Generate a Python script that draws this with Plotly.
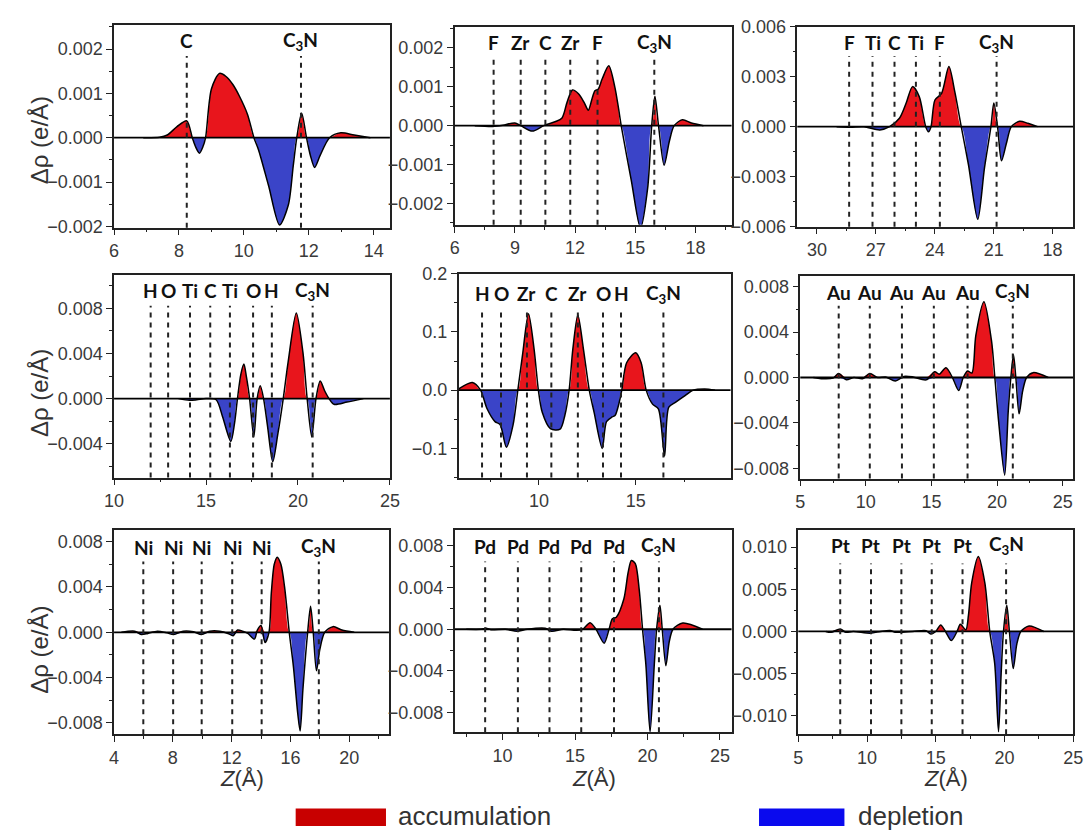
import plotly.graph_objects as go

W, H = 1092, 839

# ---------------- data ----------------
# Panel 1: C3N / graphene-like (C)
p1_z = [6.9, 7.4, 7.64, 7.94, 8.24, 8.41, 8.52, 8.63, 8.74, 8.82, 9.0, 9.25, 9.45, 9.66, 9.86, 10.11, 10.31,
        10.45, 10.76, 11.1, 11.37, 11.52, 11.63, 11.78, 11.93, 12.05, 12.18, 12.35, 12.64, 12.99, 13.4, 13.9]
p1_rho = [0, 0.00001, 0.00006, 0.00025, 0.00038, 0, -0.00022, -0.00035, -0.0002, 0, 0.0011, 0.00145, 0.00138,
          0.0012, 0.00094, 0.00053, 0, -0.00027, -0.00108, -0.00197, -0.00152, -0.00064, 0, 0.00055, 0,
          -0.0004, -0.00067, -0.0004, 0, 0.00011, 0.00006, 0]
p1_atoms = [8.24, 11.76]
p1_labels = ["C", "C<sub>3</sub>N"]

# Panel 2: Zr2CF2
p2_z = [7.0, 7.9, 8.4, 9.0, 9.29, 9.87, 10.44, 11.0, 11.35, 11.6, 11.87, 12.17, 12.45, 12.66, 12.85, 12.99,
        13.15, 13.35, 13.68, 13.98, 14.15, 14.3, 14.8, 15.26, 15.62, 15.82, 15.98, 16.16, 16.44, 16.7, 16.94,
        17.35, 17.8, 18.4]
p2_rho = [0, -0.00002, 0.00001, 0.00007, 0, -0.00014, 0, 0.0001, 0.0002, 0.0006, 0.00092, 0.00082, 0.0006,
          0.0004, 0.0007, 0.0009, 0.00094, 0.0012, 0.00154, 0.001, 0.0005, 0, -0.0014, -0.00263, -0.0016, 0,
          0.00076, 0, -0.00102, -0.0004, 0, 0.00015, 0.00007, 0]
p2_atoms = [7.94, 9.29, 10.52, 11.76, 13.12, 15.95]
p2_labels = ["F", "Zr", "C", "Zr", "F", "C<sub>3</sub>N"]

# Panel 3: Ti2CF2 (reversed axis)
p3_z = [29.0, 28.3, 27.6, 26.8, 26.3, 25.8, 25.46, 25.13, 24.79, 24.46, 24.32, 24.19, 23.99, 23.65, 23.28,
        22.98, 22.65, 22.28, 21.81, 21.47, 21.14, 20.99, 20.8, 20.6, 20.35, 20.1, 19.68, 19.26, 18.76]
p3_rho = [0, -0.00003, -0.00001, -0.0002, 0, 0.0005, 0.0014, 0.0024, 0.0018, 0, -0.0003, 0, 0.0016, 0.002,
          0.0036, 0.0021, 0, -0.0023, -0.00556, -0.0025, 0, 0.00142, 0, -0.00205, -0.001, 0, 0.00032, 0.0002, 0]
p3_atoms = [28.36, 27.17, 26.05, 24.96, 23.74, 20.85]
p3_labels = ["F", "Ti", "C", "Ti", "F", "C<sub>3</sub>N"]

# Panel 4: Ti2C(OH)2
p4_z = [13.5, 14.1, 14.5, 15.0, 15.55, 15.9, 16.35, 16.55, 16.71, 16.9, 17.06, 17.2, 17.37, 17.6, 17.78,
        17.95, 18.13, 18.35, 18.63, 18.9, 19.2, 19.47, 19.91, 20.27, 20.5, 20.75, 20.98, 21.21, 21.45, 21.69,
        21.96, 22.67, 23.56]
p4_rho = [0, -0.00015, -0.0001, 0, -0.0001, -0.0016, -0.0038, -0.0022, 0, 0.0022, 0.00306, 0.0019, 0, -0.0034,
          0, 0.00114, 0, -0.0025, -0.0056, -0.0032, 0, 0.0033, 0.0076, 0.0041, 0, -0.0034, 0, 0.00157, 0.0007,
          0, -0.0005, -0.0003, 0]
p4_atoms = [11.99, 12.94, 14.13, 15.23, 16.3, 17.56, 18.58, 20.8]
p4_labels = ["H", "O", "Ti", "C", "Ti", "O", "H", "C<sub>3</sub>N"]

# Panel 5: Zr2C(OH)2
p5_z = [5.85, 6.56, 6.98, 7.32, 7.73, 7.99, 8.32, 8.66, 8.91, 9.15, 9.46, 9.75, 9.97, 10.17, 10.59, 11.09,
        11.34, 11.56, 11.75, 12.01, 12.3, 12.6, 12.85, 13.27, 13.49, 13.78, 13.94, 14.11, 14.28, 14.53, 15.0,
        15.28, 15.54, 15.87, 16.17, 16.49, 16.71, 17.05, 17.55, 17.97, 18.56, 19.1]
p5_rho = [0.002, 0.013, 0, -0.032, -0.054, -0.059, -0.098, -0.06, 0, 0.06, 0.131, 0.07, 0, -0.038, -0.066,
          -0.067, -0.043, 0, 0.07, 0.129, 0.07, 0, -0.038, -0.1, -0.054, -0.046, -0.043, -0.026, 0, 0.047, 0.064,
          0.047, 0, -0.024, -0.032, -0.113, -0.029, -0.021, -0.0095, 0, 0.002, 0]
p5_atoms = [7.06, 8.04, 9.38, 10.64, 12.01, 13.31, 14.24, 16.43]
p5_labels = ["H", "O", "Zr", "C", "Zr", "O", "H", "C<sub>3</sub>N"]

# Panel 6: Au
p6_z = [6.0, 6.6, 7.5, 7.93, 8.5, 9.1, 9.75, 10.3, 10.9, 11.5, 12.25, 12.9, 13.6, 14.6, 15.25, 15.6, 16.1,
        16.6, 17.08, 17.42, 17.75, 18.08, 18.38, 19.0, 19.58, 19.83, 20.13, 20.58, 20.85, 21.05, 21.25, 21.43,
        21.68, 21.95, 22.25, 22.75, 23.9]
p6_rho = [0, -0.0001, -0.00005, 0.00035, -0.0002, 0, -0.0001, 0.00035, 0, 0.00005, -0.0003, 0.0001, 0.00005,
          -0.0002, 0.0005, 0.0003, 0.00086, 0, -0.00115, 0, 0.00058, 0.0004, 0.0037, 0.00668, 0.0032, 0, -0.004,
          -0.0086, -0.003, 0, 0.002, 0, -0.0032, -0.0012, 0, 0.00043, 0]
p6_atoms = [7.93, 10.3, 12.75, 15.18, 17.75, 21.2]
p6_labels = ["Au", "Au", "Au", "Au", "Au", "C<sub>3</sub>N"]

# Panel 7: Ni
p7_z = [4.5, 5.4, 5.85, 6.3, 6.95, 7.6, 8.05, 8.7, 9.4, 9.95, 10.5, 11.2, 11.75, 12.1, 12.4, 12.75, 13.1,
        13.55, 13.75, 14.0, 14.27, 14.54, 14.7, 14.9, 15.1, 15.35, 15.6, 15.92, 16.2, 16.5, 16.66, 16.85, 17.17,
        17.37, 17.55, 17.77, 18.0, 18.33, 18.89, 19.5, 20.34]
p7_rho = [0, 0.0001, -0.0002, -0.0001, 0.0001, -0.00005, -0.0002, 0.0001, 0.00005, -0.0002, 0.0001, 0.0001,
          -0.0001, -0.0003, 0.0002, 0.0001, -0.0001, -0.0006, 0.0002, 0.0006, -0.0009, 0, 0.0035, 0.006,
          0.00663, 0.006, 0.004, 0, -0.003, -0.0072, -0.0087, -0.005, 0, 0.00229, 0, -0.0034, -0.0015, 0,
          0.0005, 0.0002, 0]
p7_atoms = [5.99, 8.02, 9.96, 12.04, 14.04, 17.93]
p7_labels = ["Ni", "Ni", "Ni", "Ni", "Ni", "C<sub>3</sub>N"]

# Panel 8: Pd
p8_z = [7.5, 8.53, 8.87, 9.2, 10.2, 11.0, 11.7, 12.94, 13.39, 14.19, 15.1, 15.54, 16.04, 16.45, 17.01, 17.35,
        17.58, 17.85, 18.37, 18.66, 18.89, 19.16, 19.43, 19.66, 19.89, 20.18, 20.47, 20.63, 20.86, 21.02, 21.27,
        21.5, 21.76, 22.44, 23.8]
p8_rho = [0, 0, 0.0001, -0.00005, 0, -0.0002, 0, 0.0001, -0.0002, 0, -0.0001, 0, 0.00063, 0, -0.00134, 0,
          0.001, 0.00116, 0.0029, 0.0054, 0.0066, 0.0063, 0.0038, 0, -0.0034, -0.00984, -0.0034, 0, 0.0023, 0,
          -0.0035, -0.0012, 0, 0.0006, 0]
p8_atoms = [8.8, 11.06, 13.24, 15.43, 17.69, 20.79]
p8_labels = ["Pd", "Pd", "Pd", "Pd", "Pd", "C<sub>3</sub>N"]

# Panel 9: Pt
p9_z = [7.0, 7.38, 8.05, 8.45, 9.0, 10.24, 11.0, 11.67, 12.14, 13.33, 14.29, 14.64, 15.0, 15.36, 15.71, 16.14,
        16.55, 16.79, 17.19, 17.38, 17.62, 18.1, 18.57, 18.93, 19.29, 19.57, 19.76, 19.93, 20.17, 20.36, 20.64,
        20.9, 21.19, 21.79, 22.86]
p9_rho = [0, -0.0001, 0.0003, -0.0001, 0, -0.0002, 0, 0.0001, -0.0001, 0, 0.0001, -0.0003, 0, 0.00077, 0,
          -0.00108, 0, 0.00085, 0.0002, 0.0019, 0.0058, 0.0089, 0.0058, 0, -0.0038, -0.0119, -0.005, 0, 0.0031,
          0, -0.0044, -0.0015, 0, 0.00065, 0]
p9_atoms = [8.05, 10.29, 12.5, 14.71, 16.95, 20.12]
p9_labels = ["Pt", "Pt", "Pt", "Pt", "Pt", "C<sub>3</sub>N"]

legend_labels = ["accumulation", "depletion"]
y_title = "Δρ (e/Å)"
x_title = "<i>Z</i>(Å)"

# ---------------- styles ----------------
RED = "#E8151C"
BLUE = "#3A44C8"
LEG_RED = "#C80000"
LEG_BLUE = "#0A0AEE"
TICK_FONT = dict(family="Liberation Sans, Arial", size=18, color="#3a3a3a")
LABEL_FONT = dict(family="Lato, Open Sans", size=19, color="#111")

panels = [
    dict(z=p1_z, rho=p1_rho, atoms=p1_atoms, labels=p1_labels, frame=(106, 387, 15, 223),
         xr=[6, 14.5], xd=2, x0=6, yr=[-0.00203, 0.00255], yd=0.001, fmt=".3f", gap=32, lshift=-16),
    dict(z=p2_z, rho=p2_rho, atoms=p2_atoms, labels=p2_labels, frame=(453, 735, 17, 220),
         xr=[6, 19.8], xd=3, x0=6, yr=[-0.00255, 0.00255], yd=0.001, fmt=".3f", gap=30, lshift=-16),
    dict(z=p3_z, rho=p3_rho, atoms=p3_atoms, labels=p3_labels, frame=(802, 1083, 17, 222),
         xr=[31, 16.95], xd=3, x0=18, yr=[-0.006, 0.006], yd=0.003, fmt=".3f", gap=30, lshift=-16),
    dict(z=p4_z, rho=p4_rho, atoms=p4_atoms, labels=p4_labels, frame=(106, 387, 271, 479),
         xr=[10, 25], xd=5, x0=10, yr=[-0.007, 0.011], yd=0.004, fmt=".3f", gap=32, lshift=-16),
    dict(z=p5_z, rho=p5_rho, atoms=p5_atoms, labels=p5_labels, frame=(457, 734, 270, 479),
         xr=[5.85, 19.9], xd=5, x0=10, yr=[-0.15, 0.2], yd=0.1, fmt=".1f", gap=38, lshift=-20),
    dict(z=p6_z, rho=p6_rho, atoms=p6_atoms, labels=p6_labels, frame=(805, 1083, 273, 480),
         xr=[5, 25.8], xd=5, x0=5, yr=[-0.0089, 0.0089], yd=0.004, fmt=".3f", gap=30, lshift=-16),
    dict(z=p7_z, rho=p7_rho, atoms=p7_atoms, labels=p7_labels, frame=(106, 386, 533, 742),
         xr=[4, 22.7], xd=4, x0=4, yr=[-0.009, 0.009], yd=0.004, fmt=".3f", gap=32, lshift=-17),
    dict(z=p8_z, rho=p8_rho, atoms=p8_atoms, labels=p8_labels, frame=(453, 735, 533, 740),
         xr=[6.7, 25.8], xd=5, x0=10, yr=[-0.0099, 0.0095], yd=0.004, fmt=".3f", gap=32, lshift=-16),
    dict(z=p9_z, rho=p9_rho, atoms=p9_atoms, labels=p9_labels, frame=(803, 1083, 533, 742),
         xr=[5, 25], xd=5, x0=5, yr=[-0.0122, 0.012], yd=0.005, fmt=".3f", gap=34, lshift=-15),
]

fig = go.Figure()
layout = dict(width=W, height=H, margin=dict(l=0, r=0, t=0, b=0), autosize=False,
              paper_bgcolor="white", plot_bgcolor="white", showlegend=False)
shapes = []
annotations = []

for i, p in enumerate(panels, start=1):
    sfx = "" if i == 1 else str(i)
    xa, ya = "x" + sfx, "y" + sfx
    pos = [max(v, 0) for v in p["rho"]]
    neg = [min(v, 0) for v in p["rho"]]
    for arr, col in ((pos, RED), (neg, BLUE)):
        fig.add_trace(go.Scatter(x=p["z"], y=arr, mode="lines", fill="tozeroy", fillcolor=col,
                                 line=dict(width=0, shape="spline", smoothing=0.8, color=col),
                                 xaxis=xa, yaxis=ya, hoverinfo="skip"))
    fig.add_trace(go.Scatter(x=p["z"], y=p["rho"], mode="lines",
                             line=dict(width=1.5, shape="spline", smoothing=0.8, color="black"),
                             xaxis=xa, yaxis=ya, hoverinfo="skip"))
    l, r, t, b = p["frame"]
    common = dict(showline=True, mirror=True, linecolor="#222", linewidth=1.5, ticks="outside",
                  ticklen=6, tickwidth=1.2, tickcolor="#222", showgrid=False, zeroline=False,
                  tickfont=TICK_FONT)
    layout["xaxis" + sfx] = dict(domain=[l / W, r / W], anchor=ya, range=p["xr"], dtick=p["xd"],
                                 tick0=p["x0"],
                                 minor=dict(ticks="outside", ticklen=3, tickcolor="#222",
                                            dtick=p["xd"] / 2, tick0=p["x0"]),
                                 **common)
    layout["yaxis" + sfx] = dict(domain=[1 - b / H, 1 - t / H], anchor=xa, range=p["yr"], dtick=p["yd"],
                                 tick0=0, tickformat=p["fmt"],
                                 minor=dict(ticks="outside", ticklen=3, tickcolor="#222",
                                            dtick=p["yd"] / 2, tick0=0),
                                 **common)
    # zero line
    shapes.append(dict(type="line", xref=xa + " domain", yref=ya, x0=0, x1=1, y0=0, y1=0,
                       line=dict(color="black", width=1.8), layer="above"))
    top = 1 - p["gap"] / (b - t)
    for zpos, lab in zip(p["atoms"], p["labels"]):
        shapes.append(dict(type="line", xref=xa, yref=ya + " domain", x0=zpos, x1=zpos, y0=0, y1=top,
                           line=dict(color="#222", width=2, dash="5px,5px"), layer="above"))
        annotations.append(dict(x=zpos, y=1, xref=xa, yref=ya + " domain", yshift=p["lshift"],
                                text="<b>" + lab + "</b>", showarrow=False, xanchor="center",
                                yanchor="middle", font=LABEL_FONT))

# axis titles
for yc in (133, 392, 655):
    annotations.append(dict(x=30 / W, y=1 - yc / H, xref="paper", yref="paper", text=y_title,
                            textangle=-90, showarrow=False, xanchor="center", yanchor="middle",
                            font=dict(family="Liberation Sans, Arial", size=24, color="#333")))
for xc in (236, 595, 953):
    annotations.append(dict(x=xc / W, y=1 - 787 / H, xref="paper", yref="paper", text=x_title,
                            showarrow=False, xanchor="center", yanchor="middle",
                            font=dict(family="Liberation Sans, Arial", size=22, color="#333")))

# bottom legend
for (x0, x1, tx), col, lab in zip(((291, 383, 393), (763, 850, 862)), (LEG_RED, LEG_BLUE), legend_labels):
    shapes.append(dict(type="rect", xref="paper", yref="paper", x0=x0 / W, x1=x1 / W,
                       y0=1 - 836 / H, y1=1 - 818 / H, fillcolor=col, line=dict(width=0)))
    annotations.append(dict(x=tx / W, y=1 - 826 / H, xref="paper", yref="paper", text=lab,
                            showarrow=False, xanchor="left", yanchor="middle",
                            font=dict(family="Liberation Sans, Arial", size=26, color="#333")))

layout["shapes"] = shapes
layout["annotations"] = annotations
fig.update_layout(**layout)
fig.write_html("out.html")
